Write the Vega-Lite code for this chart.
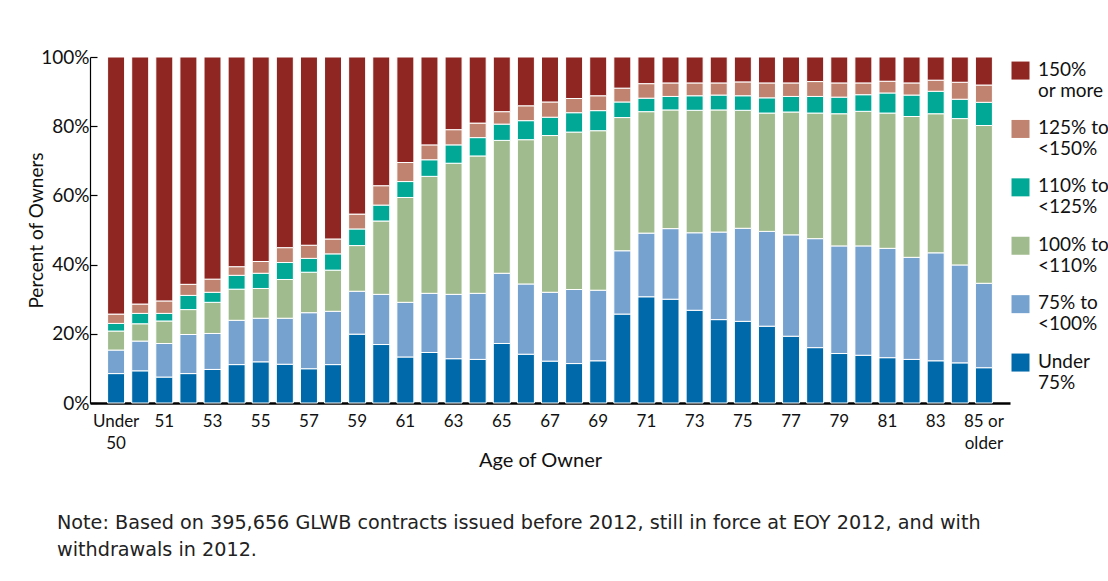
{
  "$schema": "https://vega.github.io/schema/vega-lite/v6.json",
  "width": 920,
  "height": 346,
  "autosize": {"type": "none"},
  "padding": {"left": 90, "top": 57, "right": 98, "bottom": 178},
  "background": "white",
  "title": {
    "text": ["Note: Based on 395,656 GLWB contracts issued before 2012, still in force at EOY 2012, and with", "withdrawals in 2012."],
    "orient": "bottom",
    "anchor": "start",
    "frame": "group",
    "dx": -33,
    "offset": 44,
    "font": "DejaVu Sans",
    "fontSize": 19.2,
    "fontWeight": "normal",
    "color": "#222222",
    "lineHeight": 27
  },
  "data": {
    "values": [
      {"age": "Under 50", "f_under75": 8.5, "e_75_100": 6.8, "d_100_110": 5.5, "c_110_125": 2.2, "b_125_150": 2.7, "a_over150": 74.3},
      {"age": "50", "f_under75": 9.3, "e_75_100": 8.6, "d_100_110": 5.0, "c_110_125": 3.0, "b_125_150": 2.7, "a_over150": 71.4},
      {"age": "51", "f_under75": 7.5, "e_75_100": 9.7, "d_100_110": 6.5, "c_110_125": 2.2, "b_125_150": 3.6, "a_over150": 70.5},
      {"age": "52", "f_under75": 8.5, "e_75_100": 11.3, "d_100_110": 7.2, "c_110_125": 4.1, "b_125_150": 3.2, "a_over150": 65.7},
      {"age": "53", "f_under75": 9.7, "e_75_100": 10.4, "d_100_110": 9.0, "c_110_125": 2.9, "b_125_150": 3.8, "a_over150": 64.2},
      {"age": "54", "f_under75": 11.1, "e_75_100": 12.8, "d_100_110": 9.0, "c_110_125": 4.0, "b_125_150": 2.5, "a_over150": 60.6},
      {"age": "55", "f_under75": 11.9, "e_75_100": 12.6, "d_100_110": 8.6, "c_110_125": 4.4, "b_125_150": 3.4, "a_over150": 59.1},
      {"age": "56", "f_under75": 11.2, "e_75_100": 13.3, "d_100_110": 11.2, "c_110_125": 4.9, "b_125_150": 4.3, "a_over150": 55.1},
      {"age": "57", "f_under75": 9.9, "e_75_100": 16.2, "d_100_110": 11.7, "c_110_125": 4.0, "b_125_150": 3.8, "a_over150": 54.4},
      {"age": "58", "f_under75": 11.1, "e_75_100": 15.4, "d_100_110": 11.9, "c_110_125": 4.7, "b_125_150": 4.3, "a_over150": 52.6},
      {"age": "59", "f_under75": 19.9, "e_75_100": 12.4, "d_100_110": 13.2, "c_110_125": 4.8, "b_125_150": 4.3, "a_over150": 45.4},
      {"age": "60", "f_under75": 16.9, "e_75_100": 14.5, "d_100_110": 21.2, "c_110_125": 4.6, "b_125_150": 5.6, "a_over150": 37.2},
      {"age": "61", "f_under75": 13.3, "e_75_100": 15.8, "d_100_110": 30.3, "c_110_125": 4.6, "b_125_150": 5.5, "a_over150": 30.5},
      {"age": "62", "f_under75": 14.6, "e_75_100": 17.1, "d_100_110": 33.8, "c_110_125": 4.8, "b_125_150": 4.3, "a_over150": 25.4},
      {"age": "63", "f_under75": 12.8, "e_75_100": 18.6, "d_100_110": 37.9, "c_110_125": 5.3, "b_125_150": 4.4, "a_over150": 21.0},
      {"age": "64", "f_under75": 12.6, "e_75_100": 19.1, "d_100_110": 39.7, "c_110_125": 5.3, "b_125_150": 4.2, "a_over150": 19.1},
      {"age": "65", "f_under75": 17.2, "e_75_100": 20.3, "d_100_110": 38.4, "c_110_125": 4.7, "b_125_150": 3.6, "a_over150": 15.8},
      {"age": "66", "f_under75": 14.1, "e_75_100": 20.3, "d_100_110": 41.7, "c_110_125": 5.5, "b_125_150": 4.3, "a_over150": 14.1},
      {"age": "67", "f_under75": 12.1, "e_75_100": 19.9, "d_100_110": 45.3, "c_110_125": 5.3, "b_125_150": 4.4, "a_over150": 13.0},
      {"age": "68", "f_under75": 11.4, "e_75_100": 21.4, "d_100_110": 45.5, "c_110_125": 5.6, "b_125_150": 4.1, "a_over150": 12.0},
      {"age": "69", "f_under75": 12.2, "e_75_100": 20.4, "d_100_110": 46.1, "c_110_125": 5.8, "b_125_150": 4.3, "a_over150": 11.2},
      {"age": "70", "f_under75": 25.7, "e_75_100": 18.3, "d_100_110": 38.5, "c_110_125": 4.5, "b_125_150": 4.0, "a_over150": 9.0},
      {"age": "71", "f_under75": 30.7, "e_75_100": 18.4, "d_100_110": 35.1, "c_110_125": 3.9, "b_125_150": 4.2, "a_over150": 7.7},
      {"age": "72", "f_under75": 30.0, "e_75_100": 20.4, "d_100_110": 34.3, "c_110_125": 3.9, "b_125_150": 3.9, "a_over150": 7.5},
      {"age": "73", "f_under75": 26.8, "e_75_100": 22.4, "d_100_110": 35.4, "c_110_125": 4.2, "b_125_150": 3.7, "a_over150": 7.5},
      {"age": "74", "f_under75": 24.1, "e_75_100": 25.3, "d_100_110": 35.3, "c_110_125": 4.3, "b_125_150": 3.5, "a_over150": 7.5},
      {"age": "75", "f_under75": 23.6, "e_75_100": 26.9, "d_100_110": 34.1, "c_110_125": 4.2, "b_125_150": 4.0, "a_over150": 7.2},
      {"age": "76", "f_under75": 22.2, "e_75_100": 27.4, "d_100_110": 34.2, "c_110_125": 4.4, "b_125_150": 4.3, "a_over150": 7.5},
      {"age": "77", "f_under75": 19.3, "e_75_100": 29.3, "d_100_110": 35.5, "c_110_125": 4.5, "b_125_150": 3.9, "a_over150": 7.5},
      {"age": "78", "f_under75": 16.0, "e_75_100": 31.5, "d_100_110": 36.3, "c_110_125": 4.8, "b_125_150": 4.3, "a_over150": 7.1},
      {"age": "79", "f_under75": 14.3, "e_75_100": 31.1, "d_100_110": 38.2, "c_110_125": 4.8, "b_125_150": 4.1, "a_over150": 7.5},
      {"age": "80", "f_under75": 13.8, "e_75_100": 31.6, "d_100_110": 38.9, "c_110_125": 4.8, "b_125_150": 3.4, "a_over150": 7.5},
      {"age": "81", "f_under75": 13.1, "e_75_100": 31.6, "d_100_110": 39.1, "c_110_125": 5.8, "b_125_150": 3.4, "a_over150": 7.0},
      {"age": "82", "f_under75": 12.6, "e_75_100": 29.5, "d_100_110": 40.7, "c_110_125": 6.2, "b_125_150": 3.5, "a_over150": 7.5},
      {"age": "83", "f_under75": 12.2, "e_75_100": 31.2, "d_100_110": 40.2, "c_110_125": 6.5, "b_125_150": 3.2, "a_over150": 6.7},
      {"age": "84", "f_under75": 11.6, "e_75_100": 28.3, "d_100_110": 42.3, "c_110_125": 5.6, "b_125_150": 4.9, "a_over150": 7.3},
      {"age": "85 or older", "f_under75": 10.2, "e_75_100": 24.4, "d_100_110": 45.6, "c_110_125": 6.7, "b_125_150": 5.0, "a_over150": 8.1}
    ]
  },
  "transform": [
    {"fold": ["f_under75", "e_75_100", "d_100_110", "c_110_125", "b_125_150", "a_over150"], "as": ["band", "pct"]}
  ],
  "mark": {"type": "bar", "stroke": "white", "strokeWidth": 1},
  "encoding": {
    "x": {
      "field": "age",
      "type": "nominal",
      "sort": null,
      "scale": {"paddingInner": 0.295, "paddingOuter": 0.73},
      "axis": {
        "title": "Age of Owner",
        "titleFont": "Lato",
        "titleFontSize": 20,
        "titleFontWeight": "normal",
        "titleColor": "#111111",
        "titleX": 450,
        "titleY": 63,
        "titleBaseline": "alphabetic",
        "values": ["Under 50", "51", "53", "55", "57", "59", "61", "63", "65", "67", "69", "71", "73", "75", "77", "79", "81", "83", "85 or older"],
        "labelExpr": "datum.value == 'Under 50' ? ['Under', '50'] : datum.value == '85 or older' ? ['85 or', 'older'] : datum.value",
        "labelAngle": 0,
        "labelFont": "Lato",
        "labelFontSize": 17,
        "labelColor": "#111111",
        "labelLineHeight": 22,
        "labelPadding": 10,
        "labelBaseline": "top",
        "ticks": false,
        "domainColor": "#000000",
        "domainWidth": 2.5
      }
    },
    "y": {
      "field": "pct",
      "type": "quantitative",
      "stack": "zero",
      "scale": {"domain": [0, 100], "nice": false},
      "axis": {
        "title": "Percent of Owners",
        "titleFont": "Lato",
        "titleFontSize": 19,
        "titleFontWeight": "normal",
        "titleColor": "#111111",
        "titleX": -44,
        "titleBaseline": "bottom",
        "values": [0, 20, 40, 60, 80, 100],
        "labelExpr": "datum.value + '%'",
        "labelFont": "Lato",
        "labelFontSize": 19,
        "labelColor": "#111111",
        "labelPadding": 8,
        "grid": false,
        "tickSize": -7,
        "tickColor": "#000000",
        "tickWidth": 1.2,
        "domainColor": "#000000",
        "domainWidth": 1.2
      }
    },
    "color": {
      "field": "band",
      "type": "nominal",
      "scale": {
        "domain": ["a_over150", "b_125_150", "c_110_125", "d_100_110", "e_75_100", "f_under75"],
        "range": ["#8F2621", "#C0836F", "#00A895", "#A0BB8E", "#76A2CF", "#0069A9"]
      },
      "legend": {
        "title": null,
        "orient": "none",
        "legendX": 921,
        "legendY": 9,
        "padding": 0,
        "symbolType": "M-1,-1.55L1,-1.55L1,0.45L-1,0.45Z",
        "symbolSize": 324,
        "symbolStrokeWidth": 0,
        "labelFont": "Lato",
        "labelFontSize": 19,
        "labelColor": "#111111",
        "labelLineHeight": 23,
        "labelBaseline": "alphabetic",
        "labelOffset": 8,
        "labelLimit": 200,
        "rowPadding": 17.4,
        "labelExpr": "datum.value == 'a_over150' ? ['150%', 'or more'] : datum.value == 'b_125_150' ? ['125% to', '<150%'] : datum.value == 'c_110_125' ? ['110% to', '<125%'] : datum.value == 'd_100_110' ? ['100% to', '<110%'] : datum.value == 'e_75_100' ? ['75% to', '<100%'] : ['Under', '75%']"
      }
    }
  },
  "config": {"view": {"stroke": null}}
}
